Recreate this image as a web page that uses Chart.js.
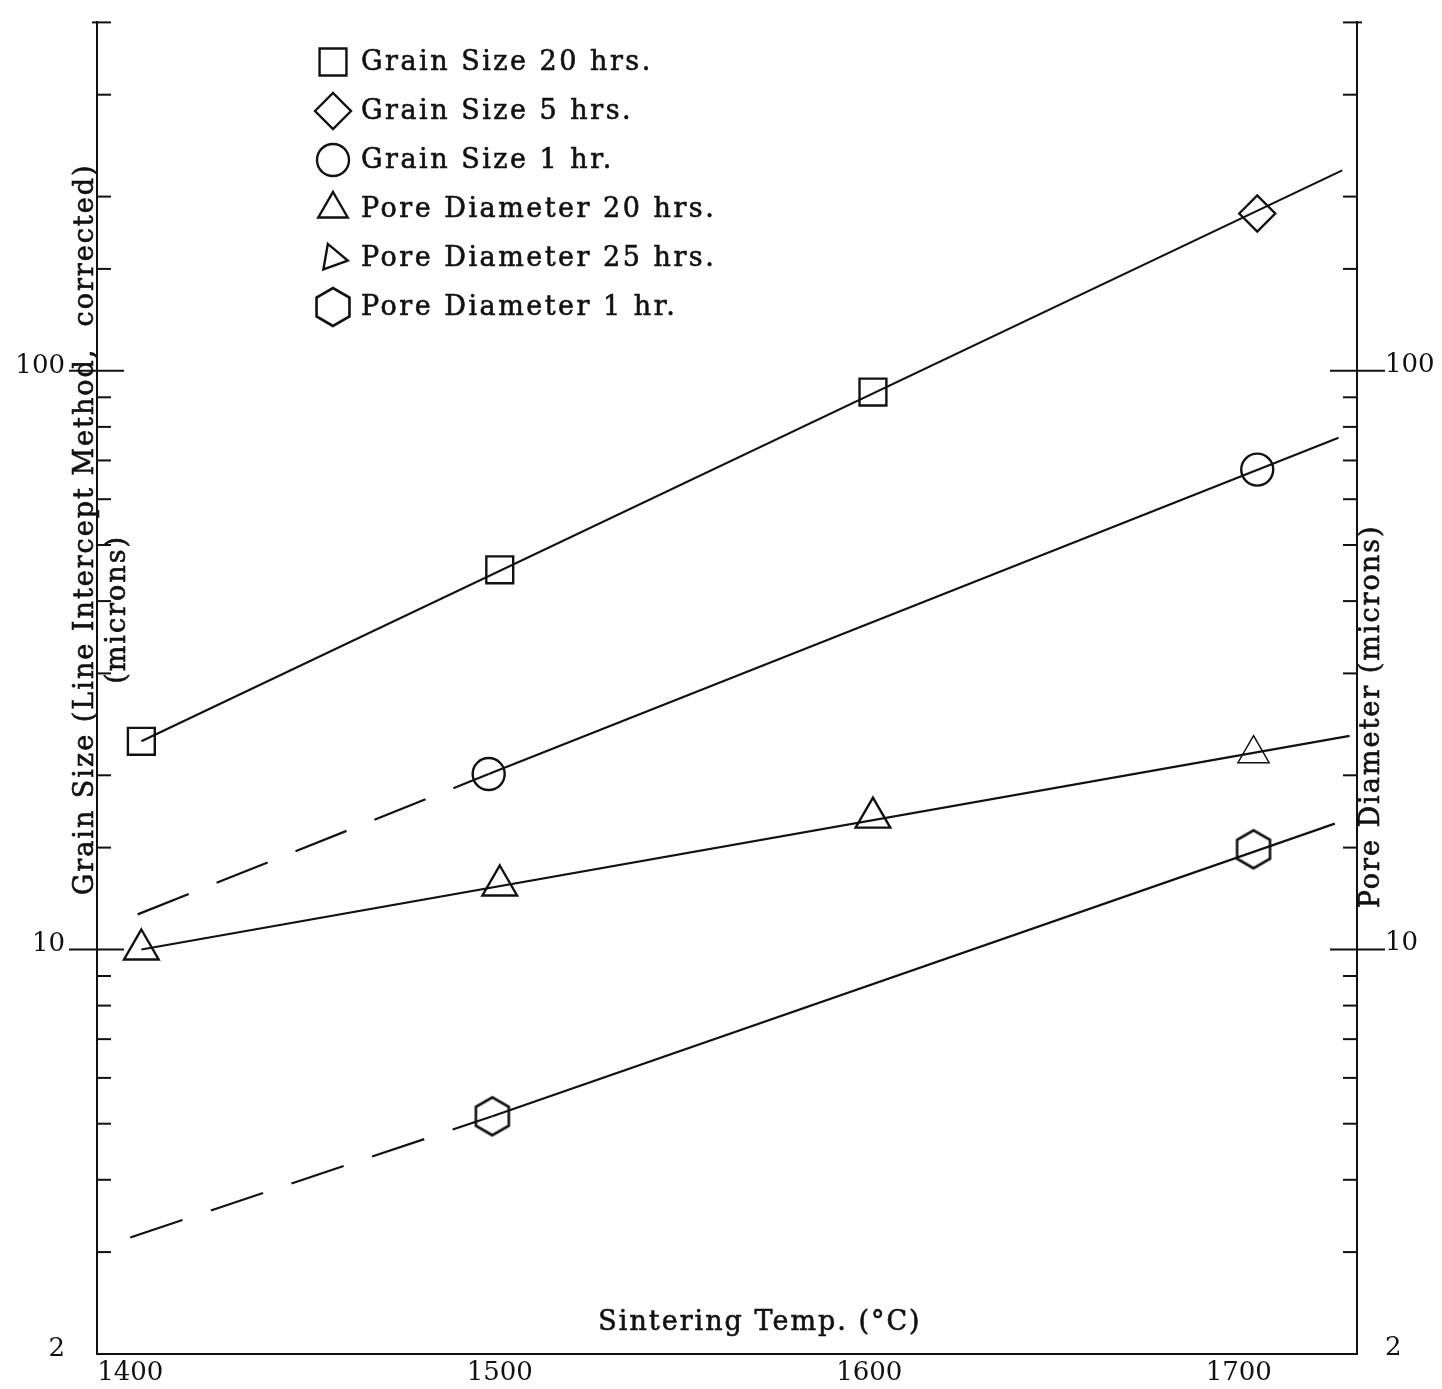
<!DOCTYPE html>
<html>
<head>
<meta charset="utf-8">
<title>Grain size and pore diameter vs sintering temperature</title>
<script src="https://cdn.jsdelivr.net/npm/chart.js@4.4.1/dist/chart.umd.min.js"></script>
<style>
  html, body { margin: 0; padding: 0; background: #fff; }
  #wrap { width: 1442px; height: 1389px; }
</style>
</head>
<body>
<div id="wrap"><canvas id="chart" width="1442" height="1389"></canvas></div>
<script>
// axis data
const tempTicks = [1400, 1500, 1600, 1700];
const yLabelValues = [2, 10, 100];
const yMin = 2, yMax = 400;
const tempMin = 1391, tempMax = 1732;

// measured points
const grain20Temp = [1403, 1500, 1601];
const grain20Size = [22.9, 45.3, 91.9];
const grain5Temp = [1705];
const grain5Size = [187];
const grain1Temp = [1497, 1705];
const grain1Size = [20.1, 67.5];
const pore20Temp = [1403, 1500, 1601];
const pore20Dia = [10.0, 12.9, 16.9];
const pore25Temp = [1704];
const pore25Dia = [21.8];
const pore1Temp = [1498, 1704];
const pore1Dia = [5.15, 14.9];

// fitted lines (end points)
const grainLongFitTemp = [1403, 1728];
const grainLongFit = [22.9, 222];
const grain1FitTemp = [1497, 1727];
const grain1Fit = [20.1, 76.6];
const grain1ExtTemp = [1402, 1497];
const grain1Ext = [11.5, 20.1];
const poreLongFitTemp = [1403, 1730];
const poreLongFit = [10.0, 23.4];
const pore1FitTemp = [1498, 1726];
const pore1Fit = [5.15, 16.5];
const pore1ExtTemp = [1400, 1498];
const pore1Ext = [3.18, 5.15];

const ink = '#111';
const serif = '"DejaVu Serif", "Liberation Serif", serif';

function pts(xs, ys) {
    return xs.map((x, i) => ({ x: x, y: ys[i] }));
}

function hexagonCanvas(r, lw) {
    const c = document.createElement('canvas');
    const size = Math.ceil(2 * r + lw * 2);
    c.width = size;
    c.height = size;
    const g = c.getContext('2d');
    g.strokeStyle = ink;
    g.lineWidth = lw;
    g.beginPath();
    for (let k = 0; k < 6; k++) {
        const a = Math.PI / 2 + k * Math.PI / 3;
        const px = size / 2 + r * Math.cos(a);
        const py = size / 2 + r * Math.sin(a);
        if (k === 0) g.moveTo(px, py); else g.lineTo(px, py);
    }
    g.closePath();
    g.stroke();
    return c;
}

const hexPlot = hexagonCanvas(19, 2.6);
const hexLegend = hexagonCanvas(19, 2.6);

function markerSet(label, xs, ys, style, radius, extra) {
    return Object.assign({
        label: label,
        data: pts(xs, ys),
        showLine: false,
        pointStyle: style,
        pointRadius: radius,
        pointBorderColor: ink,
        pointBackgroundColor: 'rgba(0,0,0,0)',
        pointBorderWidth: 2.4,
        inLegend: true
    }, extra || {});
}

function lineSet(xs, ys, dashed) {
    return {
        data: pts(xs, ys),
        showLine: true,
        borderColor: ink,
        borderWidth: 2.2,
        borderDash: dashed ? [55, 30] : [],
        pointRadius: 0,
        inLegend: false
    };
}

const datasets = [
    markerSet('Grain Size 20 hrs.', grain20Temp, grain20Size, 'rect', 19, { legendRadius: 19 }),
    markerSet('Grain Size 5 hrs.', grain5Temp, grain5Size, 'rectRot', 18, { legendRadius: 18 }),
    markerSet('Grain Size 1 hr.', grain1Temp, grain1Size, 'circle', 16, { legendRadius: 16 }),
    markerSet('Pore Diameter 20 hrs.', pore20Temp, pore20Dia, 'triangle', 20, { legendRadius: 17 }),
    markerSet('Pore Diameter 25 hrs.', pore25Temp, pore25Dia, 'triangle', 18, { pointBorderWidth: 1.5, legendRadius: 15, legendRotation: 100 }),
    markerSet('Pore Diameter 1 hr.', pore1Temp, pore1Dia, hexPlot, 19, { legendStyle: hexLegend }),
    lineSet(grainLongFitTemp, grainLongFit, false),
    lineSet(grain1FitTemp, grain1Fit, false),
    lineSet(grain1ExtTemp, grain1Ext, true),
    lineSet(poreLongFitTemp, poreLongFit, false),
    lineSet(pore1FitTemp, pore1Fit, false),
    lineSet(pore1ExtTemp, pore1Ext, true)
];

function yLabel(v) {
    const hit = yLabelValues.find(l => Math.abs(l - v) < 1e-6);
    return hit === undefined ? '' : String(hit);
}

function inkText(ctx, text, x, y) {
    ctx.fillText(text, x, y);
    ctx.strokeText(text, x, y);
}

// inward tick marks, titles and the legend of the old plot
const paperPlugin = {
    id: 'paper',
    afterDraw(chart) {
        const ctx = chart.ctx;
        const area = chart.chartArea;
        ctx.save();
        ctx.strokeStyle = ink;
        ctx.lineWidth = 2;
        ['y', 'y2'].forEach(id => {
            const s = chart.scales[id];
            const edge = id === 'y' ? area.left : area.right;
            const dir = id === 'y' ? 1 : -1;
            s.ticks.forEach(t => {
                if (Math.abs(t.value - yMin) < 1e-6) return;
                const py = s.getPixelForValue(t.value);
                const major = Math.abs(t.value - 10) < 1e-6 || Math.abs(t.value - 100) < 1e-6;
                const inner = major ? 27 : 14;
                const outer = major ? 28 : (Math.abs(t.value - yMax) < 1e-6 ? 5 : 0);
                ctx.beginPath();
                ctx.moveTo(edge - dir * outer, py);
                ctx.lineTo(edge + dir * inner, py);
                ctx.stroke();
            });
        });

        ctx.fillStyle = ink;
        ctx.lineWidth = 0.6;
        ctx.font = '27px ' + serif;
        ctx.letterSpacing = '2px';
        ctx.textBaseline = 'middle';
        ctx.textAlign = 'center';

        // x title sits inside the frame
        inkText(ctx, 'Sintering Temp. (°C)', area.left + 663, area.bottom - 31);

        // left titles
        ctx.save();
        ctx.translate(area.left - 11, area.top + 507);
        ctx.rotate(-Math.PI / 2);
        inkText(ctx, 'Grain Size (Line Intercept Method,  corrected)', 0, 0);
        ctx.restore();
        ctx.save();
        ctx.translate(area.left + 21, area.top + 587);
        ctx.rotate(-Math.PI / 2);
        inkText(ctx, '(microns)', 0, 0);
        ctx.restore();

        // right title
        ctx.save();
        ctx.translate(area.right + 15, area.top + 694);
        ctx.rotate(-Math.PI / 2);
        inkText(ctx, 'Pore Diameter (microns)', 0, 0);
        ctx.restore();

        // legend
        const markX = 333, textX = 361, rowY = 62, rowGap = 49;
        ctx.textAlign = 'left';
        ctx.letterSpacing = '2.5px';
        chart.data.datasets.filter(d => d.inLegend).forEach((d, i) => {
            const y = rowY + i * rowGap;
            ctx.strokeStyle = ink;
            ctx.fillStyle = 'rgba(0,0,0,0)';
            ctx.lineWidth = 2.4;
            Chart.helpers.drawPoint(ctx, {
                pointStyle: d.legendStyle || d.pointStyle,
                radius: d.legendRadius || d.pointRadius,
                rotation: d.legendRotation || 0,
                borderWidth: 2.4
            }, markX, y);
            ctx.fillStyle = ink;
            ctx.lineWidth = 0.6;
            inkText(ctx, d.label, textX, y + 1);
        });
        ctx.restore();
    }
};

const tickFont = { family: serif, size: 26 };
const axisGrid = { display: true, drawOnChartArea: false, drawTicks: false };
const axisBorder = { display: true, color: ink, width: 2 };

function noEdgePadding(s) {
    s.paddingTop = 0;
    s.paddingBottom = 0;
    s.paddingLeft = 0;
    s.paddingRight = 0;
}

new Chart(document.getElementById('chart').getContext('2d'), {
    type: 'scatter',
    data: { datasets: datasets },
    options: {
        responsive: false,
        animation: false,
        devicePixelRatio: 1,
        layout: { padding: { top: 18, left: 0, right: 0, bottom: 0 } },
        plugins: { legend: { display: false }, tooltip: { enabled: false } },
        scales: {
            x: {
                type: 'linear',
                min: tempMin,
                max: tempMax,
                afterBuildTicks: s => { s.ticks = tempTicks.map(v => ({ value: v })); },
                afterFit: s => { s.height = 35; noEdgePadding(s); },
                ticks: { font: tickFont, color: ink, padding: 4, maxRotation: 0, autoSkip: false, callback: v => String(v) },
                grid: axisGrid,
                border: axisBorder
            },
            y: {
                type: 'logarithmic',
                position: 'left',
                min: yMin,
                max: yMax,
                afterFit: s => { s.width = 97; noEdgePadding(s); },
                ticks: { font: tickFont, color: ink, padding: 32, autoSkip: false, labelOffset: -5, callback: yLabel },
                grid: axisGrid,
                border: axisBorder
            },
            y2: {
                type: 'logarithmic',
                position: 'right',
                min: yMin,
                max: yMax,
                afterFit: s => { s.width = 85; noEdgePadding(s); },
                ticks: { font: tickFont, color: ink, padding: 28, autoSkip: false, labelOffset: -6, callback: yLabel },
                grid: axisGrid,
                border: axisBorder
            }
        }
    },
    plugins: [paperPlugin]
});
</script>
</body>
</html>
